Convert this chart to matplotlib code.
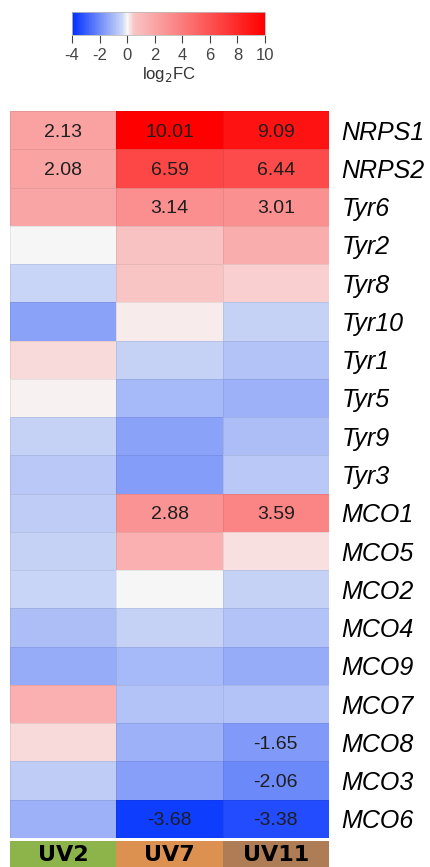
import numpy as np
import matplotlib
matplotlib.use("Agg")
import matplotlib.pyplot as plt
from matplotlib.colors import LinearSegmentedColormap, Normalize

plt.rcParams["axes.unicode_minus"] = False

# Data: log2 fold change per gene (rows) and UV strain (columns)
genes = ["NRPS1", "NRPS2", "Tyr6", "Tyr2", "Tyr8", "Tyr10", "Tyr1", "Tyr5", "Tyr9", "Tyr3",
         "MCO1", "MCO5", "MCO2", "MCO4", "MCO9", "MCO7", "MCO8", "MCO3", "MCO6"]
strains = ["UV2", "UV7", "UV11"]
strain_colors = ["#8cb44b", "#dc9150", "#af7d55"]

uv2 = [2.13, 2.08, 2.0, 0.02, -0.4, -1.5, 0.3, 0.1, -0.45, -0.7,
       -0.6, -0.5, -0.4, -0.9, -1.3, 1.5, 0.3, -0.6, -1.2]
uv7 = [10.01, 6.59, 3.14, 0.6, 0.5, 0.15, -0.5, -1.0, -1.5, -1.6,
       2.88, 1.5, 0.02, -0.5, -1.0, -0.8, -1.2, -1.55, -3.68]
uv11 = [9.09, 6.44, 3.01, 1.6, 0.4, -0.5, -0.8, -1.2, -0.9, -0.7,
        3.59, 0.25, -0.5, -0.8, -1.3, -0.8, -1.65, -2.06, -3.38]

# which cells carry a printed value
shown = {(0, 0), (0, 1), (0, 2), (1, 0), (1, 1), (1, 2), (2, 1), (2, 2),
         (10, 1), (10, 2), (16, 2), (17, 2), (18, 1), (18, 2)}

vals = np.array([uv2, uv7, uv11]).T
vmin, vmax = -4, 10
pos = lambda v: (v - vmin) / (vmax - vmin)
cmap = LinearSegmentedColormap.from_list(
    "bwr_fc", [(0, "#0030ff"), (pos(-0.4), "#cad6f6"), (pos(0), "#f7f7f7"),
               (pos(0.5), "#f9c4c4"), (1, "#ff0000")])
norm = Normalize(vmin, vmax)

W, H = 431, 867
fig = plt.figure(figsize=(W / 100, H / 100), dpi=100)

def box(x0, y0, x1, y1):
    return [x0 / W, 1 - y1 / H, (x1 - x0) / W, (y1 - y0) / H]

# heatmap
ax = fig.add_axes(box(10, 111, 329, 838))
ax.pcolormesh(vals, cmap=cmap, norm=norm, edgecolors=(0, 0, 0, 0.07), linewidth=0.6)
ax.set_xlim(0, 3)
ax.set_ylim(len(genes), 0)
ax.set_xticks([])
ax.set_yticks(np.arange(len(genes)) + 0.5)
ax.set_yticklabels(genes, fontstyle="italic", fontsize=18, family="Liberation Sans")
ax.yaxis.tick_right()
ax.tick_params(axis="y", length=0, pad=9)
for s in ax.spines.values():
    s.set_visible(False)
for (r, c) in shown:
    ax.text(c + 0.5, r + 0.55, f"{vals[r, c]:.2f}", ha="center", va="center",
            fontsize=14, color="#1e1e1e", family="Liberation Sans")

# strain bar
gx = fig.add_axes(box(10, 841, 329, 867))
for i, (name, col) in enumerate(zip(strains, strain_colors)):
    gx.axvspan(i, i + 1, color=col, lw=0)
    gx.text(i + 0.5, 0.23, name, ha="center", va="baseline", fontsize=16,
            fontweight="bold", color="black")
gx.set_xlim(0, 3)
gx.set_ylim(0, 1)
gx.axis("off")

# colorbar
cax = fig.add_axes(box(72, 12, 265, 35))
cb = fig.colorbar(plt.cm.ScalarMappable(norm=norm, cmap=cmap), cax=cax,
                  orientation="horizontal", ticks=np.arange(-4, 11, 2))
cb.outline.set_edgecolor("#bbbbbb")
cb.outline.set_linewidth(0.6)
cax.tick_params(labelsize=12, colors="#444444", length=6, width=0.8, pad=3)
for t in cax.get_xticklabels():
    t.set_family("Liberation Sans")
cb.set_label("log$_2$FC", fontsize=12, color="#333333", labelpad=2,
             family="Liberation Sans")

fig.savefig("out.png", dpi=100)
